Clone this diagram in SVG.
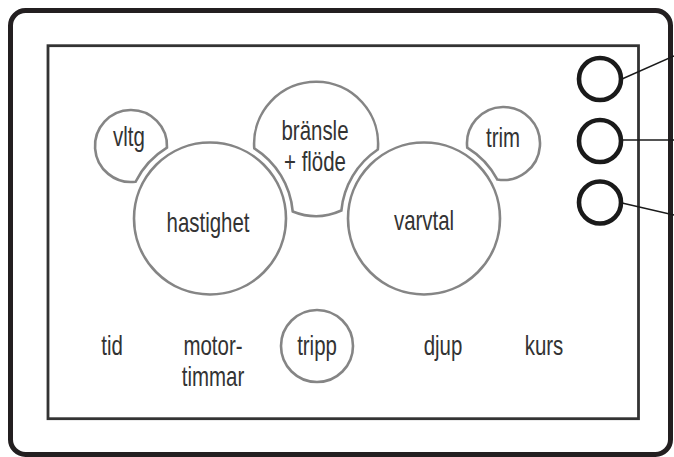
<svg xmlns="http://www.w3.org/2000/svg" width="674" height="457" viewBox="0 0 674 457">
<style>
  .frame{fill:#fff;stroke:#231f20;stroke-width:5}
  .screen{fill:none;stroke:#333;stroke-width:2.8}
  .gauge{fill:none;stroke:#858585;stroke-width:2.6}
  .btn{fill:none;stroke:#1a1a1a;stroke-width:4.6}
  .wire{fill:none;stroke:#1a1a1a;stroke-width:1.4}
  .lbl{font-family:"Liberation Sans",Arial,sans-serif;font-size:28px;fill:#333;text-anchor:middle}
</style>
<rect width="674" height="457" fill="#fff"/>
<g id="frame">
  <rect class="frame" x="10.5" y="10.5" width="660" height="444" rx="15"/>
</g>
<g id="screen">
  <rect class="screen" x="48" y="45.7" width="590.5" height="373"/>
</g>
<g id="vltg">
  <path class="gauge" d="M166.98,147.52 A36,36 0 1 0 135.6,181.72 A83,83 0 0 1 166.98,147.52 Z"/>
  <text class="lbl" transform="translate(129 146) scale(0.73 1)">vltg</text>
</g>
<g id="bransle">
  <path class="gauge" d="M254.26,148.29 A62,62 0 1 1 377.83,149.52 A83,83 0 0 0 341.37,210.56 A62,62 0 0 1 292.7,211.45 A83,83 0 0 0 254.26,148.29 Z"/>
  <text class="lbl" transform="translate(315 140) scale(0.73 1)">bränsle</text>
  <text class="lbl" transform="translate(315 171) scale(0.73 1)">+ flöde</text>
</g>
<g id="trim">
  <path class="gauge" d="M467.24,147.66 A36.5,36.5 0 1 1 497.24,179.46 A83,83 0 0 0 467.24,147.66 Z"/>
  <text class="lbl" transform="translate(503 147) scale(0.73 1)">trim</text>
</g>
<g id="hastighet">
  <circle class="gauge" cx="210" cy="218.5" r="76"/>
  <text class="lbl" transform="translate(208 232) scale(0.73 1)">hastighet</text>
</g>
<g id="varvtal">
  <circle class="gauge" cx="424" cy="218.5" r="76"/>
  <text class="lbl" transform="translate(424 230) scale(0.73 1)">varvtal</text>
</g>
<g id="tripp">
  <circle class="gauge" cx="317" cy="346" r="36"/>
  <text class="lbl" transform="translate(317 355) scale(0.73 1)">tripp</text>
</g>
<g id="tid"><text class="lbl" transform="translate(112 355) scale(0.73 1)">tid</text></g>
<g id="motortimmar">
  <text class="lbl" transform="translate(213 355) scale(0.73 1)">motor-</text>
  <text class="lbl" transform="translate(213 386) scale(0.73 1)">timmar</text>
</g>
<g id="djup"><text class="lbl" transform="translate(443 355) scale(0.73 1)">djup</text></g>
<g id="kurs"><text class="lbl" transform="translate(544 355) scale(0.73 1)">kurs</text></g>
<g id="button1"><circle class="btn" cx="600" cy="79" r="21"/></g>
<g id="button2"><circle class="btn" cx="600" cy="141" r="21"/></g>
<g id="button3"><circle class="btn" cx="600" cy="202.5" r="21"/></g>
<g id="connectors">
  <line class="wire" x1="622" y1="79" x2="674" y2="56"/>
  <line class="wire" x1="623" y1="140" x2="674" y2="140"/>
  <line class="wire" x1="622" y1="203" x2="674" y2="215"/>
</g>
</svg>
